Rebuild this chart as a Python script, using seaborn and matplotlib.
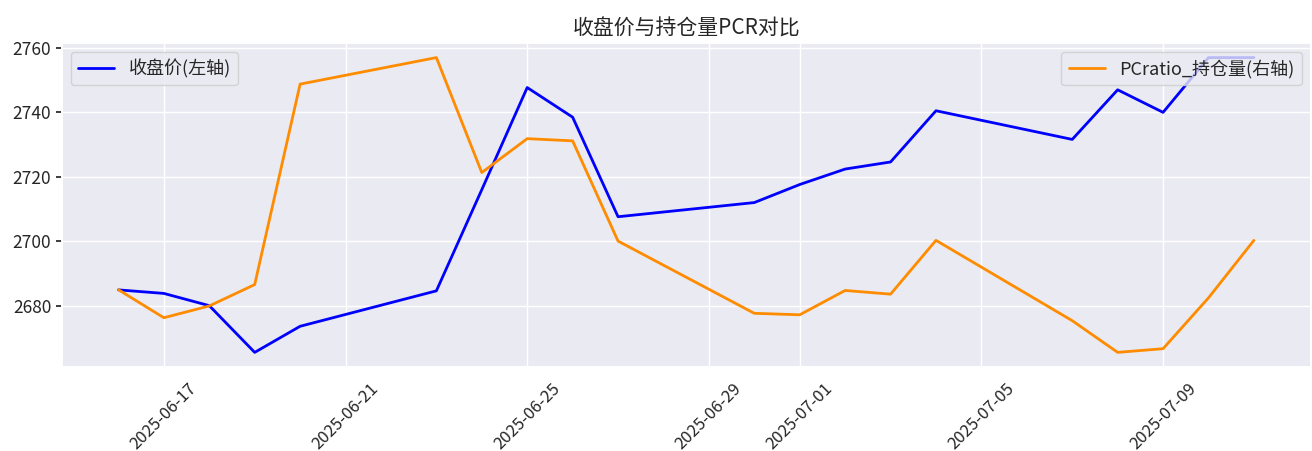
"""
收盘价与持仓量PCR对比: twin-axis line chart.
"""

import pandas as pd
import seaborn as sns
import matplotlib.pyplot as plt

dates = ["2025-06-16", "2025-06-17", "2025-06-18", "2025-06-19", "2025-06-20",
         "2025-06-23", "2025-06-24", "2025-06-25", "2025-06-26", "2025-06-27",
         "2025-06-30", "2025-07-01", "2025-07-02", "2025-07-03", "2025-07-04",
         "2025-07-07", "2025-07-08", "2025-07-09", "2025-07-10", "2025-07-11"]
close_price = [2684.9, 2683.8, 2680.0, 2665.5, 2673.6,
               2684.6, 2716.0, 2747.7, 2738.5, 2707.6,
               2712.0, 2717.6, 2722.4, 2724.6, 2740.5,
               2731.6, 2747.0, 2740.0, 2757.0, 2757.0]
pcr_oi = [0.885, 0.847, 0.863, 0.892, 1.164,
          1.200, 1.044, 1.090, 1.087, 0.951,
          0.853, 0.851, 0.884, 0.879, 0.952,
          0.843, 0.800, 0.805, 0.874, 0.952]


def main():
    sns.set_theme(style="darkgrid")
    plt.rcParams["font.family"] = ["Noto Sans CJK SC", "DejaVu Sans"]
    plt.rcParams["axes.unicode_minus"] = False

    df = pd.DataFrame({"date": pd.to_datetime(dates),
                       "close": close_price,
                       "pcr": pcr_oi})

    fig, ax1 = plt.subplots(figsize=(13.12, 4.51), dpi=100)
    fig.subplots_adjust(left=0.047, right=0.999, top=0.905, bottom=0.186)

    sns.lineplot(data=df, x="date", y="close", ax=ax1, color="blue",
                 linewidth=2, label="收盘价(左轴)")
    ax1.set_xlabel("")
    ax1.set_ylabel("")
    ax1.set_yticks([2680, 2700, 2720, 2740, 2760])
    ax1.tick_params(axis="y", left=True, length=4, labelsize=12.5)
    ax1.tick_params(axis="x", labelsize=12, rotation=45)
    ax1.legend(loc="upper left", fontsize=13)

    ax2 = ax1.twinx()
    sns.lineplot(data=df, x="date", y="pcr", ax=ax2, color="darkorange",
                 linewidth=2, label="PCratio_持仓量(右轴)")
    ax2.set_ylabel("")
    ax2.grid(False)
    ax2.tick_params(axis="y", right=False, labelright=False)
    ax2.legend(loc="upper right", fontsize=13)

    for lbl in ax1.get_xticklabels():
        lbl.set_ha("center")
    ax1.set_title("收盘价与持仓量PCR对比", fontsize=15)

    fig.savefig("out.png", dpi=100)


if __name__ == "__main__":
    main()
